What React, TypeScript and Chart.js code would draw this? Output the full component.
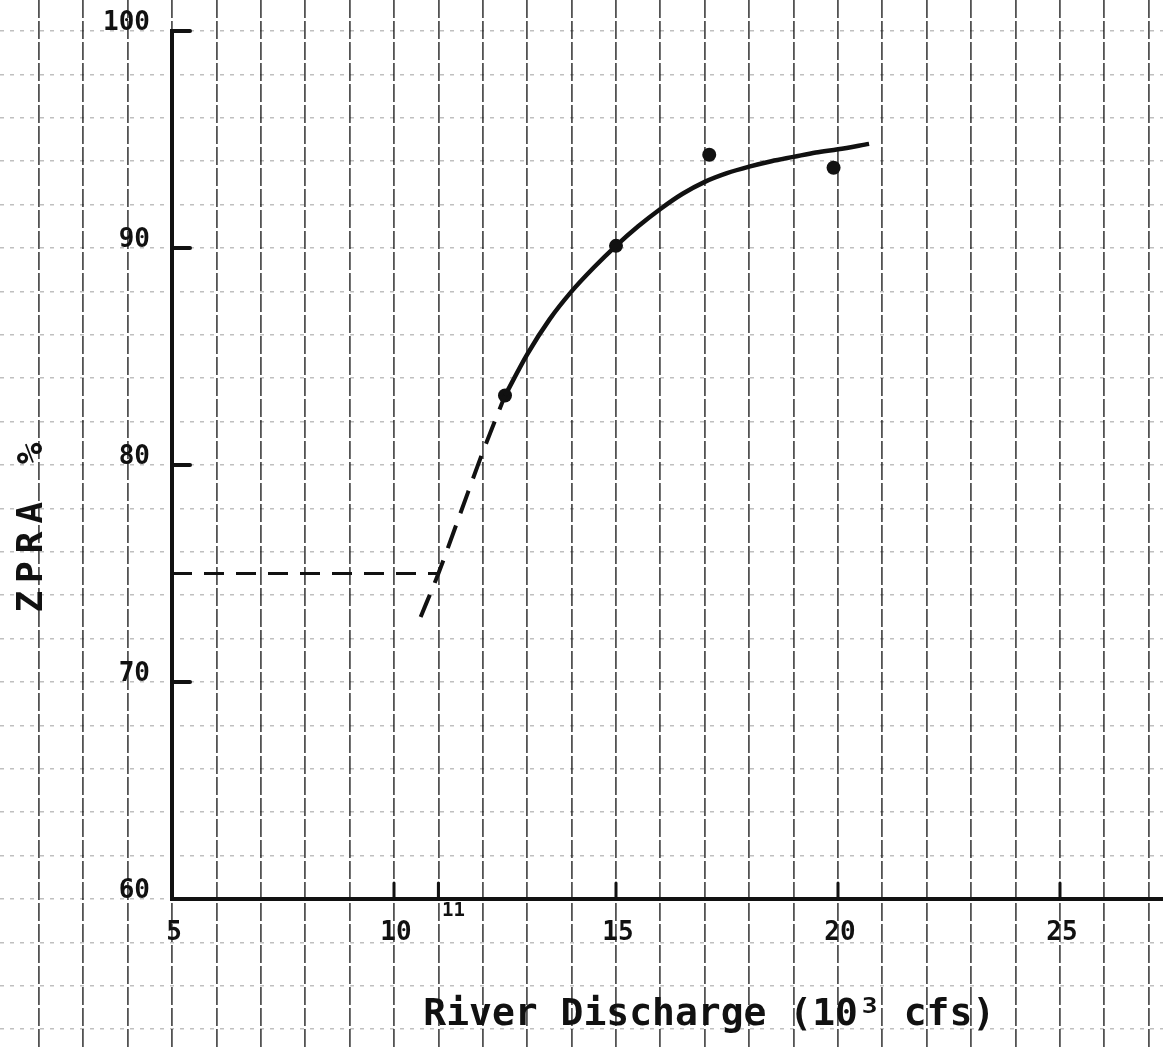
import React, { useEffect, useRef } from "react";
import { Chart, registerables } from "chart.js";

Chart.register(...registerables);

// Fitted curve through the observations (solid part)
const curveX = [12.5, 13.0, 13.5, 14.0, 14.5, 15.0, 15.5, 16.0, 16.5, 17.0, 17.5, 18.0, 18.5, 19.0, 19.5, 20.0, 20.7];
const curveY = [83.2, 85.1, 86.7, 88.0, 89.1, 90.1, 91.0, 91.8, 92.5, 93.05, 93.45, 93.75, 94.0, 94.2, 94.4, 94.55, 94.8];

// Extrapolated (dashed) part of the curve
const extX = [10.6, 11.0, 11.5, 12.0, 12.5];
const extY = [73.0, 75.0, 77.8, 80.6, 83.2];

// Observed values
const obsX = [12.5, 15, 17.1, 19.9];
const obsY = [83.2, 90.1, 94.3, 93.7];

// Read-off guide: 75 % at 11 x 10^3 cfs
const guideX = [5, 11];
const guideY = [75, 75];

// Axis tick labels
const xTickValues = [5, 10, 15, 20, 25];
const yTickValues = [60, 70, 80, 90, 100];
const xMarkValue = 11;

// Visible window of the graph paper (data units)
const X_MIN = 1.126;
const X_MAX = 27.32;
const Y_MIN = 53.04;
const Y_MAX = 101.43;

const INK = "#111";
const HAND = '"DejaVu Sans Mono", monospace';

const inkAxes = {
  id: "inkAxes",
  beforeDatasetsDraw(chart: any) {
    const { ctx } = chart;
    const xs = chart.scales.x;
    const ys = chart.scales.y;
    const x0 = xs.getPixelForValue(5);
    const y0 = ys.getPixelForValue(60);
    const yTop = ys.getPixelForValue(100);
    ctx.save();
    ctx.strokeStyle = INK;
    ctx.lineCap = "round";
    ctx.lineWidth = 4;
    ctx.beginPath();
    ctx.moveTo(x0 + 18, yTop);
    ctx.lineTo(x0, yTop);
    ctx.lineTo(x0, y0);
    ctx.lineTo(chart.width + 5, y0);
    ctx.stroke();

    // y ticks pointing into the plot
    for (const v of yTickValues) {
      if (v === 60 || v === 100) continue;
      const py = ys.getPixelForValue(v);
      ctx.beginPath();
      ctx.moveTo(x0, py);
      ctx.lineTo(x0 + 18, py);
      ctx.stroke();
    }
    // x ticks pointing up
    ctx.lineWidth = 3;
    for (const v of [...xTickValues.slice(1), xMarkValue]) {
      const px = xs.getPixelForValue(v);
      ctx.beginPath();
      ctx.moveTo(px, y0);
      ctx.lineTo(px, y0 - 16);
      ctx.stroke();
    }

    // tick labels
    ctx.fillStyle = INK;
    ctx.font = `bold 26px ${HAND}`;
    ctx.textAlign = "right";
    ctx.textBaseline = "middle";
    for (const v of yTickValues) {
      ctx.fillText(String(v), x0 - 22, ys.getPixelForValue(v) - 8);
    }
    ctx.textAlign = "center";
    for (const v of xTickValues) {
      ctx.fillText(String(v), xs.getPixelForValue(v) + 2, y0 + 34);
    }
    ctx.font = `bold 19px ${HAND}`;
    ctx.fillText(String(xMarkValue), xs.getPixelForValue(xMarkValue) + 15, y0 + 12);

    // axis titles
    ctx.font = `bold 38px ${HAND}`;
    ctx.textAlign = "center";
    ctx.fillText("River Discharge (10³ cfs)", xs.getPixelForValue(17.1), y0 + 116);

    ctx.save();
    ctx.translate(x0 - 139, ys.getPixelForValue(77.3));
    ctx.rotate(-Math.PI / 2);
    ctx.font = `bold 36px ${HAND}`;
    (ctx as any).letterSpacing = "8px";
    ctx.fillText("ZPRA %", 0, 0);
    ctx.restore();

    ctx.restore();
  },
};

export default function App() {
  const canvasRef = useRef<HTMLCanvasElement | null>(null);

  useEffect(() => {
    if (!canvasRef.current) return;
    const toPts = (xs: number[], ys: number[]) => xs.map((x, i) => ({ x, y: ys[i] }));
    const chart = new Chart(canvasRef.current, {
      type: "scatter",
      data: {
        datasets: [
          {
            label: "guide",
            data: toPts(guideX, guideY),
            showLine: true,
            borderColor: INK,
            borderWidth: 3,
            borderDash: [20, 12],
            pointRadius: 0,
          },
          {
            label: "extrapolated",
            data: toPts(extX, extY),
            showLine: true,
            borderColor: INK,
            borderWidth: 4,
            borderDash: [24, 13],
            cubicInterpolationMode: "monotone",
            pointRadius: 0,
          },
          {
            label: "curve",
            data: toPts(curveX, curveY),
            showLine: true,
            borderColor: INK,
            borderWidth: 4.5,
            cubicInterpolationMode: "monotone",
            pointRadius: 0,
          },
          {
            label: "observed",
            data: toPts(obsX, obsY),
            showLine: false,
            pointRadius: 7,
            pointBackgroundColor: INK,
            pointBorderColor: INK,
            pointBorderWidth: 0,
          },
        ],
      },
      options: {
        animation: false,
        responsive: true,
        maintainAspectRatio: false,
        layout: { padding: 0, autoPadding: false },
        plugins: {
          legend: { display: false },
          tooltip: { enabled: false },
          title: { display: false },
        },
        scales: {
          x: {
            type: "linear",
            min: X_MIN,
            max: X_MAX,
            ticks: { display: false, stepSize: 1, includeBounds: false, maxTicksLimit: 1000 },
            grid: { color: "rgba(40,40,40,0.8)", lineWidth: 1.8, drawTicks: false },
            border: { display: false, dash: [18, 3] },
          },
          y: {
            type: "linear",
            min: Y_MIN,
            max: Y_MAX,
            ticks: { display: false, stepSize: 2, includeBounds: false, maxTicksLimit: 1000 },
            grid: { color: "rgba(0,0,0,0.25)", lineWidth: 1.5, drawTicks: false },
            border: { display: false, dash: [4, 6] },
          },
        },
      },
      plugins: [inkAxes],
    });
    return () => chart.destroy();
  }, []);

  return (
    <div
      style={{
        position: "absolute",
        left: 0,
        top: 0,
        width: 1163,
        height: 1050,
        background: "#fff",
      }}
    >
      <canvas ref={canvasRef} />
    </div>
  );
}
